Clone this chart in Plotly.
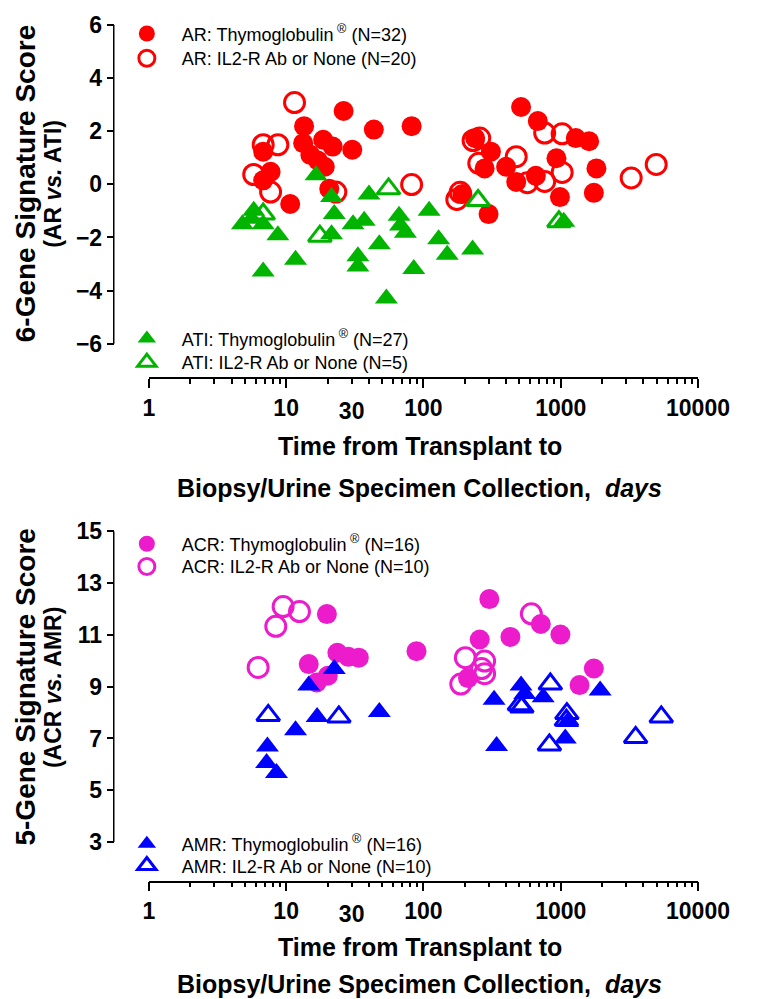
import plotly.graph_objects as go

# ---- data ----
# top panel: 6-gene signature, AR vs ATI
ar_thymo_days = [6.8, 7.7, 6.8, 10.7, 13.5, 13.3, 15, 17, 18.6, 21.8, 19.1, 20.6, 26.2, 30.3, 43.5, 82,
                 514, 681, 238, 1288, 1610, 310, 279, 400, 474, 659, 931, 1820, 1743, 987, 298, 192]
ar_thymo_score = [1.23, 0.47, 0.15, -0.74, 2.19, 1.55, 1.11, 0.9, 1.68, 1.42, 0.66, -0.17, 2.76, 1.30, 2.06, 2.19,
                  2.91, 2.38, 1.74, 1.74, 1.62, 1.23, 0.60, 0.66, 0.09, 0.32, 0.98, 0.60, -0.32, -0.48, -1.12, -0.36]
ar_il2_days = [11.5, 6.8, 8.7, 5.8, 7.7, 23, 82, 257, 764, 1024, 474, 253, 571, 764, 1024, 3260, 4960, 175, 185, 230]
ar_il2_score = [3.08, 1.49, 1.49, 0.37, -0.29, -0.29, -0.01, 1.74, 1.93, 1.90, 1.04, 0.79, 0.06, 0.11, 0.45,
                0.24, 0.75, -0.57, -0.30, 1.65]
ati_thymo_days = [4.8, 5.8, 6.8, 8.7, 6.8, 11.7, 16.5, 21.4, 22.4, 21.4, 40.1, 30.7, 37, 33.3, 33.3, 47.7,
                  53.7, 66.4, 73.9, 110, 129, 149, 228, 85, 1052, 68, 5.6]
ati_thymo_score = [-1.50, -0.99, -1.50, -1.92, -3.28, -2.84, 0.34, -0.48, -1.12, -1.88, -0.38, -1.50, -1.37, -2.71,
                   -3.09, -2.26, -4.30, -1.18, -1.82, -0.99, -2.07, -2.65, -2.45, -3.19, -1.41, -1.55, -1.30]
ati_il2_days = [6.8, 17.6, 55.7, 250, 970]
ati_il2_score = [-1.12, -1.95, -0.17, -0.61, -1.41]

# bottom panel: 5-gene signature, ACR vs AMR
acr_thymo_days = [19.8, 14.6, 16.7, 20.1, 23.6, 28.4, 33.8, 89, 302, 257, 430, 716, 995, 211, 1743, 1371]
acr_thymo_score = [11.80, 9.87, 9.16, 9.42, 10.31, 10.15, 10.12, 10.37, 12.38, 10.82, 10.92, 11.42, 11.01, 9.33,
                   9.70, 9.06]
acr_il2_days = [6.25, 8.4, 9.5, 12.5, 611, 202, 279, 279, 187, 265]
acr_il2_score = [9.74, 11.33, 12.09, 11.90, 11.81, 10.12, 9.99, 9.50, 9.10, 9.70]
amr_thymo_days = [14.6, 22.4, 16.8, 11.7, 7.3, 7.2, 8.5, 47.7, 327, 341, 514, 547, 745, 1079, 1121, 1937]
amr_thymo_score = [9.04, 9.68, 7.83, 7.32, 6.69, 6.05, 5.67, 8.02, 8.49, 6.71, 9.04, 8.72, 8.59, 7.00, 7.64, 8.85]
amr_il2_days = [7.4, 24.2, 840, 521, 1109, 827, 3513, 5400, 1100, 500]
amr_il2_score = [7.89, 7.83, 9.10, 8.21, 7.96, 6.75, 7.04, 7.83, 7.70, 8.30]

x_tickvals = [1, 10, 100, 1000, 10000]
x_ticktext = ["1", "10", "100", "1000", "10000"]
x_extra_val = [30]
x_extra_text = ["30"]
top_yticks = [-6, -4, -2, 0, 2, 4, 6]
bot_yticks = [3, 5, 7, 9, 11, 13, 15]

RED, GREEN, MAGENTA, BLUE = "#ff0000", "#00b400", "#ec1ccc", "#0000ff"
FONT = "Liberation Sans, Arial, sans-serif"
OFF = 8                      # page body margin around the plot div
W, H = 768 - OFF, 999 - OFF  # figure fills the rest of the window
X0, X1 = 150, 728            # screen pixel span of the log x axis (1 .. 10000)
YAX = 113                    # screen pixel x of the detached y axes


def px(v):
    return (v - OFF) / W


def py(v):
    return 1 - (v - OFF) / H


fig = go.Figure()


def add(days, score, color, filled, symbol, name, xa, ya, legend):
    sym = symbol if filled else symbol + "-open"
    fig.add_trace(go.Scatter(
        x=days, y=score, mode="markers", name=name,
        xaxis=xa, yaxis=ya, legend=legend, showlegend=True,
        marker=dict(symbol=sym, size=20, color=color,
                    line=dict(color=color, width=3 if not filled else 0)),
    ))


sup = "<sup> ®</sup>"
add(ar_thymo_days, ar_thymo_score, RED, True, "circle", f"AR: Thymoglobulin{sup} (N=32)", "x", "y", "legend")
add(ar_il2_days, ar_il2_score, RED, False, "circle", "AR: IL2-R Ab or None (N=20)", "x", "y", "legend2")
add(ati_thymo_days, ati_thymo_score, GREEN, True, "triangle-up", f"ATI: Thymoglobulin{sup} (N=27)", "x", "y", "legend3")
add(ati_il2_days, ati_il2_score, GREEN, False, "triangle-up", "ATI: IL2-R Ab or None (N=5)", "x", "y", "legend4")
add(acr_thymo_days, acr_thymo_score, MAGENTA, True, "circle", f"ACR: Thymoglobulin{sup} (N=16)", "x2", "y2", "legend5")
add(acr_il2_days, acr_il2_score, MAGENTA, False, "circle", "ACR: IL2-R Ab or None (N=10)", "x2", "y2", "legend6")
add(amr_thymo_days, amr_thymo_score, BLUE, True, "triangle-up", f"AMR: Thymoglobulin{sup} (N=16)", "x2", "y2", "legend7")
add(amr_il2_days, amr_il2_score, BLUE, False, "triangle-up", "AMR: IL2-R Ab or None (N=10)", "x2", "y2", "legend8")

# empty traces so the overlay axes carrying the "30" label get drawn
for xa, ya in (("x3", "y"), ("x4", "y2")):
    fig.add_trace(go.Scatter(x=[], y=[], xaxis=xa, yaxis=ya, showlegend=False, hoverinfo="skip"))

tickfont = dict(family=FONT, size=23, color="black", weight="bold")


def xaxis(anchor):
    return dict(type="log", range=[0, 4], domain=[px(X0), px(X1)], anchor=anchor,
                showline=True, linecolor="black", linewidth=1.5, ticks="outside", ticklen=9, tickwidth=1.5,
                tickcolor="black", tickvals=x_tickvals, ticktext=x_ticktext, tickfont=tickfont,
                minor=dict(dtick="D1", ticks="outside", ticklen=5, tickwidth=1.5, tickcolor="black"),
                showgrid=False, zeroline=False)


def xaxis_30(over, anchor):
    # the "30" label sits on a minor tick and a little lower than the decade labels
    return dict(type="log", range=[0, 4], domain=[px(X0), px(X1)], overlaying=over, anchor=anchor,
                showline=False, ticks="outside", ticklen=13, tickcolor="rgba(0,0,0,0)",
                tickvals=x_extra_val, ticktext=x_extra_text, tickfont=tickfont,
                showgrid=False, zeroline=False)


def yaxis(lo, hi, top_px, bot_px, line_px, ticks):
    # y axis runs lo..hi between top_px and bot_px; its domain is stretched down to the
    # x-axis line so the x axis sits detached below the y axis, as in the original
    per_px = (hi - lo) / (bot_px - top_px)
    return dict(range=[lo - (line_px - bot_px) * per_px, hi], domain=[py(line_px), py(top_px)],
                anchor="free", position=px(YAX), showline=False, ticks="outside", ticklen=7, tickwidth=1.5,
                tickcolor="black", tickvals=ticks, tickfont=tickfont, showgrid=False, zeroline=False)


def legend(y_px):
    return dict(x=px(111), y=py(y_px), xanchor="left", yanchor="middle", bgcolor="rgba(0,0,0,0)",
                font=dict(family=FONT, size=18, color="black"), itemwidth=60, itemsizing="trace")


rows = [21, 46, 330, 354, 538, 561, 842, 864]
legends = {("legend" if i == 0 else f"legend{i + 1}"): legend(r) for i, r in enumerate(rows)}

fig.update_layout(
    width=W, height=H, margin=dict(l=0, r=0, t=0, b=0), showlegend=True,
    paper_bgcolor="white", plot_bgcolor="rgba(0,0,0,0)",
    xaxis=xaxis("y"), yaxis=yaxis(-6, 6, 12, 335, 369, top_yticks),
    xaxis2=xaxis("y2"), yaxis2=yaxis(3, 15, 525, 840, 879, bot_yticks),
    xaxis3=xaxis_30("x", "y"), xaxis4=xaxis_30("x2", "y2"),
    shapes=[
        dict(type="line", xref="paper", yref="y", x0=px(YAX), x1=px(YAX), y0=-6, y1=6,
             line=dict(color="black", width=1.5)),
        dict(type="line", xref="paper", yref="y2", x0=px(YAX), x1=px(YAX), y0=3, y1=15,
             line=dict(color="black", width=1.5)),
    ],
    **legends,
)

ann = []
for yc, l1, l2 in [(173, "6-Gene Signature Score", "(AR <i>vs.</i> ATI)"),
                   (683, "5-Gene Signature Score", "(ACR <i>vs.</i> AMR)")]:
    ann.append(dict(text=f"<b>{l1}</b>", x=px(20), y=py(yc), xref="paper", yref="paper", textangle=-90,
                    showarrow=False, xanchor="center", yanchor="middle",
                    font=dict(family=FONT, size=28, color="black")))
    ann.append(dict(text=f"<b>{l2}</b>", x=px(49), y=py(yc), xref="paper", yref="paper", textangle=-90,
                    showarrow=False, xanchor="center", yanchor="middle",
                    font=dict(family=FONT, size=23, color="black")))
for y1, y2 in ((439, 481), (946, 984)):
    ann.append(dict(text="<b>Time from Transplant to</b>", x=px(435), y=py(y1), xref="paper", yref="paper",
                    showarrow=False, xanchor="center", yanchor="middle",
                    font=dict(family=FONT, size=25, color="black")))
    ann.append(dict(text="<b>Biopsy/Urine Specimen Collection,  <i>days</i></b>", x=px(435), y=py(y2),
                    xref="paper", yref="paper", showarrow=False, xanchor="center", yanchor="middle",
                    font=dict(family=FONT, size=25, color="black")))
fig.update_layout(annotations=ann)

fig.write_html("out.html")
